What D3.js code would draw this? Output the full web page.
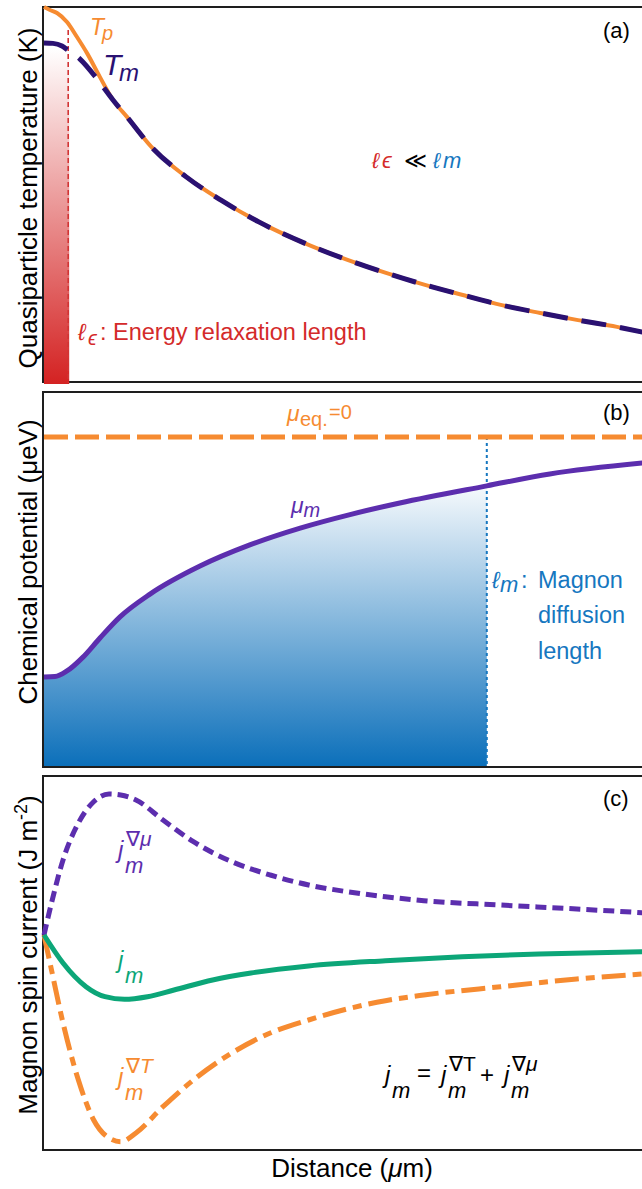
<!DOCTYPE html>
<html>
<head>
<meta charset="utf-8">
<script src="https://cdn.jsdelivr.net/npm/d3@7"></script>
<style>
  body { margin: 0; background: #fff; }
  text { font-family: "Liberation Sans", Arial, Helvetica, sans-serif; }
  .it { font-style: italic; }
</style>
</head>
<body>
<div id="chart"></div>
<script>
// Set width and height
var svgWidth = 642;
var svgHeight = 1189;

// Panel (a): quasiparticle temperatures (normalised)
var distTp = [0, 0.1, 0.217, 0.383, 0.55, 0.717, 0.933, 1.15, 1.383, 1.79, 2.37, 2.95, 3.58, 4.42, 5.07, 5.7, 6.35, 6.98, 7.63, 8.27, 8.9, 9.55, 9.98];
var tempTp = [1.0, 0.992, 0.984, 0.96, 0.92, 0.877, 0.813, 0.752, 0.707, 0.627, 0.547, 0.485, 0.427, 0.365, 0.325, 0.291, 0.259, 0.232, 0.205, 0.184, 0.165, 0.147, 0.133];
var distTm = [0, 0.15, 0.3, 0.4, 0.6, 0.9, 1.15, 1.383, 1.79, 2.37, 2.95, 3.58, 4.42, 5.07, 5.7, 6.35, 6.98, 7.63, 8.27, 8.9, 9.55, 9.98];
var tempTm = [0.904, 0.903, 0.896, 0.885, 0.861, 0.805, 0.752, 0.707, 0.627, 0.547, 0.485, 0.427, 0.365, 0.325, 0.291, 0.259, 0.232, 0.205, 0.184, 0.165, 0.147, 0.133];
var lenE = 0.42;

// Panel (b): magnon chemical potential
var distMu = [0, 0.183, 0.383, 0.65, 0.933, 1.267, 1.767, 2.6, 3.43, 4.27, 5.1, 5.93, 7.38, 8.43, 9.97];
var muM = [-0.727, -0.726, -0.709, -0.667, -0.609, -0.545, -0.476, -0.391, -0.327, -0.276, -0.235, -0.2, -0.148, -0.112, -0.079];
var muEq = 0;
var lenM = 7.38;

// Panel (c): magnon spin currents
var distJ = [0, 0.125, 0.317, 0.573, 0.828, 1.083, 1.277, 1.533, 1.983, 2.49, 3.13, 3.77, 4.41, 5.05, 5.69, 6.33, 7.61, 8.88, 9.97];
var jMu = [0, 0.32, 0.75, 1.12, 1.333, 1.41, 1.4, 1.35, 1.15, 0.933, 0.733, 0.6, 0.5, 0.433, 0.383, 0.343, 0.3, 0.26, 0.223];
var jT = [0, -0.35, -0.88, -1.45, -1.85, -2.03, -2.067, -1.98, -1.717, -1.45, -1.18, -0.98, -0.85, -0.74, -0.657, -0.6, -0.517, -0.44, -0.39];
var distJm = [0, 0.317, 0.7, 1.017, 1.34, 1.725, 2.167, 2.81, 3.45, 4.41, 5.69, 6.97, 8.25, 9.97];
var jTot = [0, -0.28, -0.517, -0.617, -0.643, -0.617, -0.55, -0.45, -0.38, -0.31, -0.257, -0.217, -0.19, -0.167];

// Colours
var orange = "#f68b31";
var navy = "#2a1172";
var purple = "#5c2eae";
var green = "#0ca678";
var red = "#d42a2a";
var blue = "#1677c0";

var svg = d3.select("#chart")
    .append("svg")
    .attr("width", svgWidth)
    .attr("height", svgHeight);

var defs = svg.append("defs");
var redGrad = defs.append("linearGradient")
    .attr("id", "redGrad")
    .attr("gradientUnits", "userSpaceOnUse")
    .attr("x1", 0).attr("y1", 48).attr("x2", 0).attr("y2", 384);
redGrad.append("stop").attr("offset", 0).attr("stop-color", "#ffffff");
redGrad.append("stop").attr("offset", 1).attr("stop-color", "#d42222");

var blueGrad = defs.append("linearGradient")
    .attr("id", "blueGrad")
    .attr("gradientUnits", "userSpaceOnUse")
    .attr("x1", 0).attr("y1", 475).attr("x2", 0).attr("y2", 767);
blueGrad.append("stop").attr("offset", 0).attr("stop-color", "#ffffff");
blueGrad.append("stop").attr("offset", 1).attr("stop-color", "#0b6fba");

// Shared x scale (distance)
var xScale = d3.scaleLinear().domain([0, 10]).range([44, 644]);

// Panel y scales
var yA = d3.scaleLinear().domain([0, 1]).range([382, 7]);
var yB = d3.scaleLinear().domain([-1, 0.1364]).range([767, 392]);
var yC = d3.scaleLinear().domain([-2.15, 1.59]).range([1150, 776]);

function pts(xs, ys) {
    return xs.map((d, i) => [d, ys[i]]);
}

function lineFor(y) {
    return d3.line()
        .x(d => xScale(d[0]))
        .y(d => y(d[1]))
        .curve(d3.curveMonotoneX);
}

// Frames (right side runs off the page)
[[7, 382], [392, 767], [776, 1150]].forEach(function(p) {
    svg.append("rect")
        .attr("x", 43)
        .attr("y", p[0])
        .attr("width", 700)
        .attr("height", p[1] - p[0])
        .attr("fill", "none")
        .attr("stroke", "#1e1e1e")
        .attr("stroke-width", 2);
});

// ---------- Panel (a) ----------
var gA = svg.append("g");
defs.append("clipPath").attr("id", "clipE")
    .append("rect")
    .attr("x", 44).attr("y", 0)
    .attr("width", xScale(lenE) - 44).attr("height", 384);
gA.append("path")
    .datum(pts(distTm, tempTm))
    .attr("clip-path", "url(#clipE)")
    .attr("fill", "url(#redGrad)")
    .attr("d", d3.area()
        .x(d => xScale(d[0]))
        .y0(384)
        .y1(d => yA(d[1]))
        .curve(d3.curveMonotoneX));
gA.append("line")
    .attr("x1", xScale(lenE) - 1).attr("x2", xScale(lenE) - 1)
    .attr("y1", 30).attr("y2", 383)
    .attr("stroke", "#d23434")
    .attr("stroke-width", 1.6)
    .attr("stroke-dasharray", "5,3");

gA.append("path")
    .datum(pts(distTp, tempTp))
    .attr("fill", "none")
    .attr("stroke", orange)
    .attr("stroke-width", 4)
    .attr("d", lineFor(yA));
gA.append("path")
    .datum(pts(distTm, tempTm))
    .attr("fill", "none")
    .attr("stroke", navy)
    .attr("stroke-width", 5)
    .attr("stroke-dasharray", "25,14")
    .attr("d", lineFor(yA));

var tp = gA.append("text").attr("fill", orange).attr("class", "it");
tp.append("tspan").attr("x", 90).attr("y", 35).attr("font-size", 23).text("T");
tp.append("tspan").attr("x", 102).attr("y", 40).attr("font-size", 20).text("p");
var tm = gA.append("text").attr("fill", navy).attr("class", "it");
tm.append("tspan").attr("x", 103).attr("y", 75).attr("font-size", 30).text("T");
tm.append("tspan").attr("x", 119).attr("y", 81).attr("font-size", 24).text("m");

var cmp = gA.append("text").attr("font-size", 22);
cmp.append("tspan").attr("x", 372).attr("y", 168).attr("fill", red).attr("class", "it").text("ℓ");
cmp.append("tspan").attr("x", 382).attr("y", 168).attr("fill", red).attr("class", "it").text("ϵ");
cmp.append("tspan").attr("x", 404).attr("y", 168).attr("fill", "#000").text("≪");
cmp.append("tspan").attr("x", 433).attr("y", 168).attr("fill", blue).attr("class", "it").text("ℓ");
cmp.append("tspan").attr("x", 443).attr("y", 168).attr("fill", blue).attr("class", "it").text("m");

var eLab = gA.append("text").attr("fill", red).attr("font-size", 23.5);
eLab.append("tspan").attr("x", 78).attr("y", 340).attr("class", "it").text("ℓ");
eLab.append("tspan").attr("x", 88).attr("y", 345).attr("font-size", 20).attr("class", "it").text("ϵ");
eLab.append("tspan").attr("x", 100).attr("y", 340).text(": Energy relaxation length");

// ---------- Panel (b) ----------
var gB = svg.append("g");
gB.append("path")
    .datum(pts(distMu, muM).filter(d => d[0] <= lenM))
    .attr("fill", "url(#blueGrad)")
    .attr("d", d3.area()
        .x(d => xScale(d[0]))
        .y0(766)
        .y1(d => yB(d[1]))
        .curve(d3.curveMonotoneX));
gB.append("line")
    .attr("x1", xScale(lenM)).attr("x2", xScale(lenM))
    .attr("y1", yB(muEq)).attr("y2", 766)
    .attr("stroke", blue)
    .attr("stroke-width", 2)
    .attr("stroke-dasharray", "3,3");
gB.append("line")
    .attr("x1", xScale(0)).attr("x2", 660)
    .attr("y1", yB(muEq)).attr("y2", yB(muEq))
    .attr("stroke", orange)
    .attr("stroke-width", 5)
    .attr("stroke-dasharray", "24,7");
gB.append("path")
    .datum(pts(distMu, muM))
    .attr("fill", "none")
    .attr("stroke", purple)
    .attr("stroke-width", 5)
    .attr("d", lineFor(yB));

var eq = gB.append("text").attr("fill", orange);
eq.append("tspan").attr("x", 287).attr("y", 421).attr("font-size", 23).attr("class", "it").text("μ");
eq.append("tspan").attr("x", 300).attr("y", 426).attr("font-size", 20).text("eq.");
eq.append("tspan").attr("x", 329).attr("y", 419).attr("font-size", 20).text("=0");

gB.append("text").attr("x", 291).attr("y", 513).attr("fill", purple)
    .attr("font-size", 23).attr("class", "it").text("μ")
    .append("tspan").attr("font-size", 20).attr("dy", 4).text("m");

var mLab = gB.append("text").attr("fill", blue).attr("font-size", 23.5);
mLab.append("tspan").attr("x", 492).attr("y", 588).attr("class", "it").text("ℓ");
mLab.append("tspan").attr("x", 500).attr("y", 592).attr("font-size", 22).attr("class", "it").text("m");
mLab.append("tspan").attr("x", 521).attr("y", 588).text(":");
mLab.append("tspan").attr("x", 538).attr("y", 588).text("Magnon");
mLab.append("tspan").attr("x", 538).attr("y", 623).text("diffusion");
mLab.append("tspan").attr("x", 538).attr("y", 659).text("length");

// ---------- Panel (c) ----------
var gC = svg.append("g");
gC.append("path")
    .datum(pts(distJ, jT))
    .attr("fill", "none")
    .attr("stroke", orange)
    .attr("stroke-width", 5)
    .attr("stroke-dasharray", "24,7,9,7")
    .attr("d", lineFor(yC));
gC.append("path")
    .datum(pts(distJ, jMu))
    .attr("fill", "none")
    .attr("stroke", purple)
    .attr("stroke-width", 5)
    .attr("stroke-dasharray", "11,6")
    .attr("d", lineFor(yC));
gC.append("path")
    .datum(pts(distJm, jTot))
    .attr("fill", "none")
    .attr("stroke", green)
    .attr("stroke-width", 5)
    .attr("d", lineFor(yC));

// j labels: x of j, baseline of subscript m, superscript text
function jLabel(g, x, mBase, sup, color, supItalic) {
    var t = g.append("text").attr("fill", color);
    t.append("tspan").attr("x", x).attr("y", mBase - 15).attr("font-size", 24).attr("class", "it").text("j");
    if (sup) {
        var s = t.append("tspan").attr("x", x + 8).attr("y", mBase - 27).attr("font-size", 21);
        s.append("tspan").text("∇");
        s.append("tspan").attr("class", supItalic ? "it" : null).text(sup);
    }
    t.append("tspan").attr("x", x + 7).attr("y", mBase).attr("font-size", 22).attr("class", "it").text("m");
}
jLabel(gC, 118, 873, "μ", purple, true);
jLabel(gC, 118, 983, null, green, false);
jLabel(gC, 118, 1100, "T", orange, true);

// Equation
jLabel(gC, 385, 1098, null, "#000", false);
gC.append("text").attr("x", 417).attr("y", 1081).attr("font-size", 24).text("=");
jLabel(gC, 441, 1098, "T", "#000", false);
gC.append("text").attr("x", 480).attr("y", 1083).attr("font-size", 24).text("+");
jLabel(gC, 504, 1098, "μ", "#000", true);

// Panel letters
[["(a)", 38], ["(b)", 420], ["(c)", 806]].forEach(function(p) {
    svg.append("text")
        .attr("x", 603)
        .attr("y", p[1])
        .attr("font-size", 22)
        .text(p[0]);
});

// Axis titles
function yTitle(cy, parts) {
    var t = svg.append("text")
        .attr("transform", `translate(37, ${cy}) rotate(-90)`)
        .attr("text-anchor", "middle")
        .attr("font-size", 26);
    parts.forEach(function(p) {
        var s = t.append("tspan").text(p.t);
        if (p.it) s.attr("class", "it");
        if (p.sup) s.attr("font-size", 18).attr("dy", -10);
        if (p.down) s.attr("dy", 10);
    });
}
yTitle(198, [{t: "Quasiparticle temperature (K)"}]);
yTitle(562, [{t: "Chemical potential (μeV)"}]);
yTitle(955, [{t: "Magnon spin current (J m"}, {t: "-2", sup: true}, {t: ")", down: true}]);

var xt = svg.append("text")
    .attr("x", 352)
    .attr("y", 1177)
    .attr("text-anchor", "middle")
    .attr("font-size", 26);
xt.append("tspan").text("Distance (");
xt.append("tspan").attr("class", "it").text("μ");
xt.append("tspan").text("m)");
</script>
</body>
</html>
